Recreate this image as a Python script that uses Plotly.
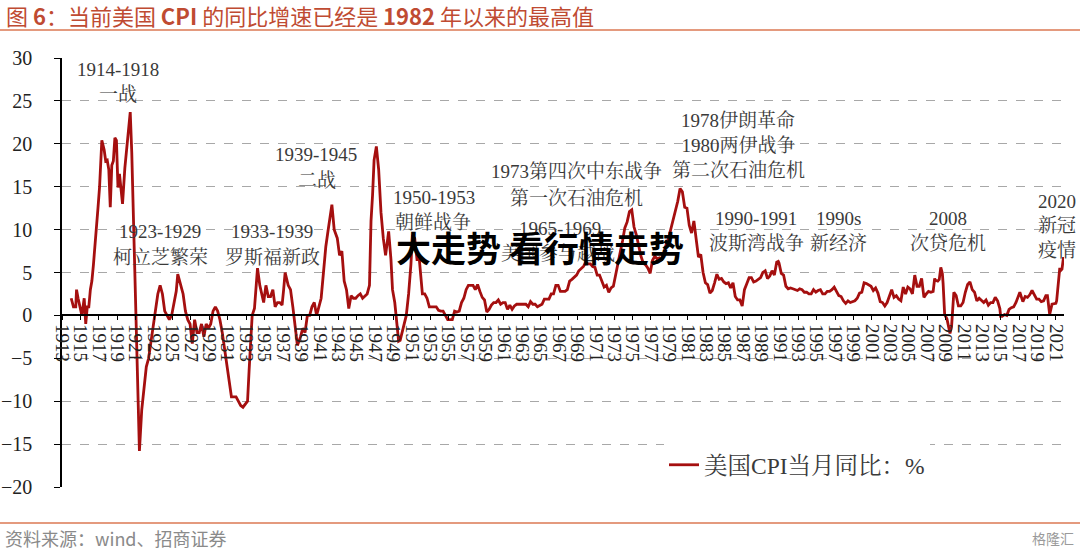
import plotly.graph_objects as go

# ---------------- data ----------------
dates = [
    "1914-01", "1914-04", "1914-07", "1914-08", "1914-10", "1914-12",
    "1915-03", "1915-06", "1915-08", "1915-10", "1915-12",
    "1916-02", "1916-04", "1916-06", "1916-08", "1916-10", "1916-12",
    "1917-02", "1917-05", "1917-08", "1917-10", "1917-12",
    "1918-02", "1918-04", "1918-06", "1918-08", "1918-10", "1918-12",
    "1919-02", "1919-04", "1919-08", "1919-11",
    "1920-02", "1920-06", "1920-08", "1920-10", "1920-12",
    "1921-02", "1921-04", "1921-06", "1921-09", "1921-12",
    "1922-03", "1922-06", "1922-09", "1922-12",
    "1923-03", "1923-06", "1923-09", "1923-12",
    "1924-03", "1924-06", "1924-09", "1924-12",
    "1925-03", "1925-06", "1925-08", "1925-12",
    "1926-03", "1926-06", "1926-09", "1926-12",
    "1927-03", "1927-06", "1927-09", "1927-12",
    "1928-03", "1928-06", "1928-09", "1928-12",
    "1929-03", "1929-06", "1929-09", "1929-12",
    "1930-03", "1930-06", "1930-09", "1930-12",
    "1931-03", "1931-06", "1931-09", "1931-12",
    "1932-03", "1932-06", "1932-09", "1932-12",
    "1933-03", "1933-05", "1933-07", "1933-09", "1933-12",
    "1934-02", "1934-04", "1934-07", "1934-10", "1934-12",
    "1935-03", "1935-06", "1935-09", "1935-12",
    "1936-03", "1936-06", "1936-09", "1936-12",
    "1937-02", "1937-04", "1937-08", "1937-11",
    "1938-02", "1938-04", "1938-06", "1938-08", "1938-12",
    "1939-03", "1939-06", "1939-09", "1939-12",
    "1940-03", "1940-06", "1940-09", "1940-12",
    "1941-03", "1941-06", "1941-09", "1941-12",
    "1942-03", "1942-05", "1942-08", "1942-12",
    "1943-03", "1943-06", "1943-09", "1943-12",
    "1944-03", "1944-06", "1944-09", "1944-12",
    "1945-03", "1945-06", "1945-09", "1945-12",
    "1946-03", "1946-06", "1946-08", "1946-10", "1946-12",
    "1947-03", "1947-06", "1947-09", "1947-12",
    "1948-03", "1948-07", "1948-10", "1948-12",
    "1949-03", "1949-06", "1949-08", "1949-10", "1949-12",
    "1950-03", "1950-06", "1950-09", "1950-12",
    "1951-02", "1951-05", "1951-08", "1951-11",
    "1952-03", "1952-06", "1952-09", "1952-12",
    "1953-03", "1953-06", "1953-09", "1953-12",
    "1954-03", "1954-06", "1954-09", "1954-12",
    "1955-03", "1955-06", "1955-09", "1955-12",
    "1956-03", "1956-06", "1956-09", "1956-12",
    "1957-03", "1957-06", "1957-09", "1957-12",
    "1958-03", "1958-06", "1958-09", "1958-12",
    "1959-03", "1959-06", "1959-09", "1959-12",
    "1960-03", "1960-06", "1960-09", "1960-12",
    "1961-03", "1961-06", "1961-09", "1961-12",
    "1962-03", "1962-06", "1962-09", "1962-12",
    "1963-03", "1963-06", "1963-09", "1963-12",
    "1964-03", "1964-06", "1964-09", "1964-12",
    "1965-03", "1965-06", "1965-09", "1965-12",
    "1966-03", "1966-06", "1966-09", "1966-12",
    "1967-03", "1967-06", "1967-09", "1967-12",
    "1968-03", "1968-06", "1968-09", "1968-12",
    "1969-03", "1969-06", "1969-09", "1969-12",
    "1970-03", "1970-06", "1970-09", "1970-12",
    "1971-03", "1971-06", "1971-09", "1971-12",
    "1972-03", "1972-06", "1972-09", "1972-12",
    "1973-03", "1973-06", "1973-09", "1973-12",
    "1974-03", "1974-06", "1974-09", "1974-12",
    "1975-03", "1975-06", "1975-09", "1975-12",
    "1976-03", "1976-06", "1976-09", "1976-12",
    "1977-03", "1977-06", "1977-09", "1977-12",
    "1978-03", "1978-06", "1978-09", "1978-12",
    "1979-03", "1979-06", "1979-09", "1979-12",
    "1980-03", "1980-06", "1980-09", "1980-12",
    "1981-03", "1981-06", "1981-09", "1981-12",
    "1982-03", "1982-06", "1982-09", "1982-12",
    "1983-03", "1983-06", "1983-09", "1983-12",
    "1984-03", "1984-06", "1984-09", "1984-12",
    "1985-03", "1985-06", "1985-09", "1985-12",
    "1986-03", "1986-06", "1986-09", "1986-12",
    "1987-03", "1987-06", "1987-09", "1987-12",
    "1988-03", "1988-06", "1988-09", "1988-12",
    "1989-03", "1989-06", "1989-09", "1989-12",
    "1990-03", "1990-06", "1990-09", "1990-11", "1990-12",
    "1991-03", "1991-06", "1991-09", "1991-12",
    "1992-03", "1992-06", "1992-09", "1992-12",
    "1993-03", "1993-06", "1993-09", "1993-12",
    "1994-03", "1994-06", "1994-09", "1994-12",
    "1995-03", "1995-06", "1995-09", "1995-12",
    "1996-03", "1996-06", "1996-09", "1996-12",
    "1997-03", "1997-06", "1997-09", "1997-12",
    "1998-03", "1998-06", "1998-09", "1998-12",
    "1999-03", "1999-06", "1999-09", "1999-12",
    "2000-03", "2000-06", "2000-09", "2000-12",
    "2001-03", "2001-06", "2001-09", "2001-12",
    "2002-03", "2002-06", "2002-09", "2002-12",
    "2003-03", "2003-06", "2003-09", "2003-12",
    "2004-03", "2004-06", "2004-09", "2004-12",
    "2005-03", "2005-06", "2005-09", "2005-12",
    "2006-03", "2006-06", "2006-09", "2006-12",
    "2007-03", "2007-06", "2007-09", "2007-11", "2007-12",
    "2008-03", "2008-05", "2008-07", "2008-09", "2008-10", "2008-11", "2008-12",
    "2009-03", "2009-05", "2009-07", "2009-09", "2009-11", "2009-12",
    "2010-03", "2010-06", "2010-09", "2010-12",
    "2011-03", "2011-06", "2011-09", "2011-12",
    "2012-03", "2012-06", "2012-09", "2012-12",
    "2013-03", "2013-06", "2013-09", "2013-12",
    "2014-03", "2014-06", "2014-09", "2014-12",
    "2015-01", "2015-03", "2015-06", "2015-09", "2015-12",
    "2016-03", "2016-06", "2016-09", "2016-12",
    "2017-02", "2017-06", "2017-09", "2017-12",
    "2018-03", "2018-06", "2018-09", "2018-12",
    "2019-03", "2019-06", "2019-09", "2019-12",
    "2020-02", "2020-05", "2020-08", "2020-12",
    "2021-01", "2021-02", "2021-03", "2021-04", "2021-05", "2021-06",
    "2021-07", "2021-08", "2021-09", "2021-10", "2021-11",
]

cpi_yoy = [
    2.0, 1.0, 1.0, 3.0, 2.0, 1.0,
    0.0, 2.0, -1.0, 1.0, 1.0,
    3.0, 4.0, 5.9, 7.9, 9.9, 12.6,
    15.0, 20.4, 19.3, 18.0, 18.1,
    17.0, 12.6, 17.5, 18.0, 20.7, 20.4,
    14.9, 16.5, 13.0, 17.2,
    20.4, 23.7, 19.0, 12.0, 2.6,
    -4.0, -10.0, -15.8, -11.0, -8.0,
    -6.0, -5.0, -3.0, -1.5,
    1.0, 2.5, 3.5, 2.5,
    0.5, 0.0, -0.5, 0.0,
    1.5, 2.8, 4.8, 3.5,
    2.5, 0.5, -0.5, -1.0,
    -3.3, -0.5, -2.0, -2.0,
    -1.0, -2.5, -1.0, -1.5,
    -1.0, 0.5, 1.0, 0.5,
    -0.5, -2.0, -4.0, -6.0,
    -8.0, -9.5, -9.5, -9.5,
    -10.0, -10.5, -10.7, -10.3,
    -10.0, -6.5, -2.5, 0.0, 0.8,
    3.0, 5.5, 3.5, 2.2, 1.5,
    3.5, 2.2, 2.2, 3.0,
    1.0, 1.5, 1.5, 1.2,
    3.0, 5.0, 3.5, 3.0,
    1.0, -0.5, -2.0, -3.5, -2.5,
    -1.5, -2.0, 0.0, 0.0,
    1.0, 1.5, 0.0, 1.0,
    2.0, 5.0, 8.0, 9.9,
    12.0, 12.9, 10.0, 9.0,
    7.0, 7.5, 4.0, 3.0,
    0.8, 2.3, 2.0, 2.0,
    2.3, 2.5, 2.0, 2.3,
    2.5, 3.5, 11.0, 14.0, 18.1,
    19.7, 17.0, 12.0, 9.0,
    7.0, 9.8, 6.5, 3.0,
    1.5, -1.0, -3.0, -2.9, -2.1,
    -1.0, 0.0, 2.5, 5.9,
    9.4, 9.0, 6.5, 6.5,
    2.5, 2.5, 2.0, 1.0,
    1.0, 1.0, 1.0, 0.6,
    0.5, 0.5, 0.0, -0.5,
    -0.5, -0.5, 0.5, 0.4,
    0.5, 1.5, 2.0, 3.0,
    3.5, 3.5, 3.5, 3.0,
    3.6, 2.8, 2.1, 1.8,
    0.4, 0.7, 1.2, 1.5,
    1.5, 1.8, 1.3, 1.5,
    1.5, 0.7, 1.2, 0.7,
    1.1, 1.3, 1.3, 1.3,
    1.3, 1.3, 1.0, 1.6,
    1.3, 1.3, 1.0, 1.2,
    1.3, 1.9, 1.9, 1.9,
    2.5, 2.5, 3.5, 3.5,
    2.8, 2.8, 2.8, 3.0,
    4.0, 4.2, 4.5, 4.7,
    5.2, 5.5, 5.7, 6.2,
    6.0, 6.0, 5.7, 5.6,
    4.7, 4.7, 4.0, 3.3,
    3.5, 2.7, 3.2, 3.4,
    4.7, 5.9, 7.4, 8.7,
    10.2, 10.9, 12.1, 12.3,
    10.3, 9.4, 7.9, 6.9,
    6.1, 5.9, 5.5, 4.9,
    6.4, 6.9, 6.6, 6.7,
    6.4, 7.4, 8.3, 9.0,
    10.1, 10.9, 12.2, 13.3,
    14.8, 14.4, 12.6, 12.5,
    10.5, 9.6, 11.0, 8.9,
    6.8, 7.1, 5.0, 3.8,
    3.6, 2.6, 2.9, 3.8,
    4.8, 4.2, 4.3, 3.9,
    3.7, 3.8, 3.2, 3.8,
    2.2, 1.8, 1.8, 1.1,
    3.0, 3.7, 4.4, 4.4,
    3.9, 4.0, 4.2, 4.4,
    5.0, 5.2, 4.3, 4.6,
    5.2, 4.7, 6.2, 6.3, 6.1,
    4.9, 4.7, 3.4, 3.1,
    3.2, 3.1, 3.0, 2.9,
    3.1, 3.0, 2.7, 2.7,
    2.5, 2.5, 3.0, 2.7,
    2.9, 3.0, 2.5, 2.5,
    2.8, 2.8, 3.0, 3.3,
    2.8, 2.3, 2.2, 1.7,
    1.4, 1.7, 1.5, 1.6,
    1.7, 2.0, 2.6, 2.7,
    3.8, 3.7, 3.5, 3.4,
    2.9, 3.2, 2.6, 1.6,
    1.5, 1.1, 1.5, 2.4,
    3.0, 2.1, 2.3, 1.9,
    1.7, 3.3, 2.5, 3.3,
    3.1, 2.5, 4.7, 3.4,
    3.4, 4.3, 2.1, 2.5,
    2.8, 2.7, 2.8, 4.3, 4.1,
    4.0, 4.2, 5.6, 4.9, 3.7, 1.1, 0.1,
    -0.4, -1.3, -2.1, -1.3, 1.8, 2.7,
    2.3, 1.1, 1.1, 1.5,
    2.7, 3.6, 3.9, 3.0,
    2.7, 1.7, 2.0, 1.7,
    1.5, 1.8, 1.2, 1.5,
    1.5, 2.1, 1.7, 0.8,
    -0.1, -0.1, 0.1, 0.0, 0.7,
    0.9, 1.0, 1.5, 2.1,
    2.7, 1.6, 2.2, 2.1,
    2.4, 2.9, 2.3, 1.9,
    1.9, 1.6, 1.7, 2.3,
    2.3, 0.1, 1.3, 1.4,
    1.4, 1.7, 2.6, 4.2, 5.0, 5.4,
    5.4, 5.3, 5.4, 6.2, 6.8,
]

series_name = "美国CPI当月同比：%"

event_years = ["1914-1918", "1923-1929", "1933-1939", "1939-1945", "1950-1953",
               "1965-1969", "1973第四次中东战争", "1978伊朗革命", "1990-1991",
               "1990s", "2008", "2020"]
event_names = ["一战", "柯立芝繁荣", "罗斯福新政", "二战", "朝鲜战争",
               "美国参与越战", "第一次石油危机", "1980两伊战争<br>第二次石油危机",
               "波斯湾战争", "新经济", "次贷危机", "新冠<br>疫情"]

# ---------------- layout helpers (pixel -> paper) ----------------
W, H = 1080, 550
L, R, T, B = 62, 16, 58, 63
PW, PH = W - L - R, H - T - B


def px(x):
    return (x - L) / PW


def py(y):
    return (H - B - y) / PH


SERIF = "Liberation Serif, Times New Roman, Noto Serif CJK SC, Noto Sans CJK SC, serif"
CJK = "Noto Sans CJK SC, Liberation Sans, sans-serif"

fig = go.Figure()
fig.add_trace(go.Scatter(
    x=dates, y=cpi_yoy, mode="lines", name=series_name,
    line=dict(color="#A50F0F", width=2.8),
))

# annotation positions (pixel centres) for year line and name line
year_pos = [(118, 69), (160, 231), (272, 231), (316, 154), (434, 197),
            (560, 228), (576, 171), (738, 120), (756, 219),
            (838, 219), (948, 219), (1057, 202)]
name_pos = [(118, 94), (160, 257), (272, 257), (317, 180), (433, 223),
            (558, 253), (576, 198), (738, 158), (756, 243),
            (838, 243), (948, 243), (1057, 238)]

annotations = []
for txt, (x, y) in zip(event_years, year_pos):
    annotations.append(dict(text=txt, x=px(x), y=py(y), xref="paper", yref="paper",
                            xanchor="center", yanchor="middle", showarrow=False,
                            font=dict(family=SERIF, size=19, color="#3A3A3A")))
for txt, (x, y) in zip(event_names, name_pos):
    annotations.append(dict(text=txt, x=px(x), y=py(y), xref="paper", yref="paper",
                            xanchor="center", yanchor="middle", showarrow=False,
                            font=dict(family=SERIF, size=19, color="#3A3A3A")))

# title
annotations.append(dict(
    text="图 <b>6</b>：当前美国 <b>CPI</b> 的同比增速已经是 <b>1982</b> 年以来的最高值",
    x=px(4), y=py(15), xref="paper", yref="paper", xanchor="left", yanchor="middle",
    showarrow=False, font=dict(family=CJK, size=22, color="#BF4B32")))
# footer
annotations.append(dict(
    text="资料来源：wind、招商证券", x=px(3), y=py(538), xref="paper", yref="paper",
    xanchor="left", yanchor="middle", showarrow=False,
    font=dict(family=CJK, size=18, color="#8A8A8A")))
annotations.append(dict(
    text="格隆汇", x=px(1076), y=py(538), xref="paper", yref="paper",
    xanchor="right", yanchor="middle", showarrow=False,
    font=dict(family=CJK, size=14, color="#9A9A9A")))
# overlay watermark text
annotations.append(dict(
    text="<b>大走势 看行情走势</b>", x=px(540), y=py(246), xref="paper", yref="paper",
    xanchor="center", yanchor="middle", showarrow=False,
    font=dict(family=CJK, size=35, color="#000000")))

shapes = [
    dict(type="line", xref="paper", yref="paper", x0=px(0), x1=px(W), y0=py(30), y1=py(30),
         line=dict(color="#E49A7E", width=2)),
    dict(type="line", xref="paper", yref="paper", x0=px(0), x1=px(W), y0=py(523), y1=py(523),
         line=dict(color="#E49A7E", width=2)),
]

fig.update_layout(
    width=W, height=H,
    margin=dict(l=L, r=R, t=T, b=B),
    paper_bgcolor="white", plot_bgcolor="white",
    showlegend=True,
    legend=dict(x=px(664), y=py(465), xanchor="left", yanchor="middle",
                bgcolor="white", borderwidth=0,
                font=dict(family=SERIF, size=23.5, color="#3A3A3A")),
    annotations=annotations,
    shapes=shapes,
    xaxis=dict(
        type="date", range=["1913-01-01", "2021-11-20"],
        anchor="free", position=0.4, automargin=False,
        tick0="1913-01-01", dtick="M24", tickformat="%Y",
        tickangle=90, ticks="outside", ticklen=4, tickcolor="black",
        showline=True, linecolor="black", linewidth=1.5,
        showgrid=False, zeroline=False,
        tickfont=dict(family=SERIF, size=19, color="#222222"),
    ),
    yaxis=dict(
        range=[-20, 30], dtick=5, tick0=0, automargin=False,
        showline=True, linecolor="black", linewidth=1.5,
        ticks="outside", ticklen=6, tickcolor="black",
        showgrid=True, gridcolor="#A8A8A8", griddash="dash", gridwidth=1,
        zeroline=True, zerolinecolor="black", zerolinewidth=1.5,
        tickfont=dict(family=SERIF, size=20, color="#222222"),
        ticklabelstandoff=18,
    ),
)

fig.write_html("out.html")
